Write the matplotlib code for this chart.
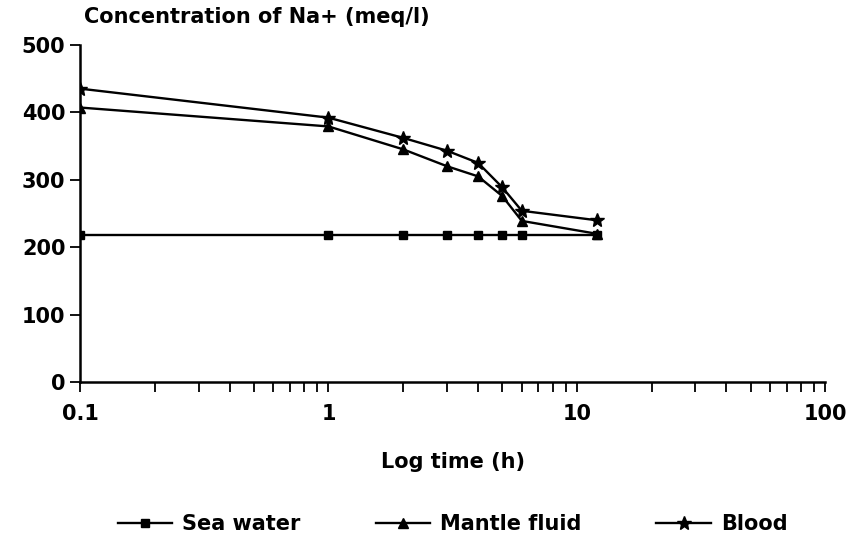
import matplotlib
matplotlib.use("Agg")
import matplotlib.pyplot as plt
from matplotlib.ticker import LogLocator, NullFormatter, FixedLocator, FixedFormatter

# data
time_h = [0.1, 1, 2, 3, 4, 5, 6, 12]
sea_water = [218, 218, 218, 218, 218, 218, 218, 218]
mantle_fluid = [407, 379, 345, 320, 305, 276, 239, 220]
blood = [435, 392, 362, 343, 325, 289, 254, 240]

x_ticks = [0.1, 1, 10, 100]
x_tick_labels = ['0.1', '1', '10', '100']
y_ticks = [0, 100, 200, 300, 400, 500]

plt.rcParams['font.family'] = ['DejaVu Sans']
plt.rcParams['font.weight'] = 'bold'
fs = 15

fig = plt.figure(figsize=(8.46, 5.46), dpi=100)
ax = fig.add_axes([0.0946, 0.300, 0.881, 0.618])

lw = 1.7
ax.plot(time_h, sea_water, color='black', lw=lw, marker='s', ms=6, label='Sea water')
ax.plot(time_h, mantle_fluid, color='black', lw=lw, marker='^', ms=7, label='Mantle fluid')
ax.plot(time_h, blood, color='black', lw=lw, marker='*', ms=10, label='Blood')

ax.set_xscale('log')
ax.set_xlim(0.1, 100)
ax.set_ylim(0, 500)

ax.xaxis.set_major_locator(FixedLocator(x_ticks))
ax.xaxis.set_major_formatter(FixedFormatter(x_tick_labels))
ax.xaxis.set_minor_locator(LogLocator(base=10, subs=range(2, 10)))
ax.xaxis.set_minor_formatter(NullFormatter())
ax.set_yticks(y_ticks)

ax.tick_params(axis='both', which='both', direction='out', length=7, width=1.3, labelsize=fs)
ax.tick_params(axis='x', pad=9)

for pos in ['right', 'top']:
    ax.spines[pos].set_visible(False)
for pos in ['left', 'bottom']:
    ax.spines[pos].set_linewidth(1.8)

for lab in ax.get_xticklabels() + ax.get_yticklabels():
    lab.set_fontweight('bold')

ax.set_xlabel('Log time (h)', fontsize=fs, fontweight='bold', labelpad=20)
ax.text(0.005, 1.083, 'Concentration of Na+ (meq/l)', transform=ax.transAxes,
        fontsize=fs, fontweight='bold', ha='left', va='center')

fig.legend(loc='lower center', bbox_to_anchor=(0.535, -0.012), ncol=3, frameon=False,
           handlelength=2.6, columnspacing=3.6, handletextpad=0.5,
           prop={'weight': 'bold', 'size': fs})

fig.savefig('out.png', dpi=100)
